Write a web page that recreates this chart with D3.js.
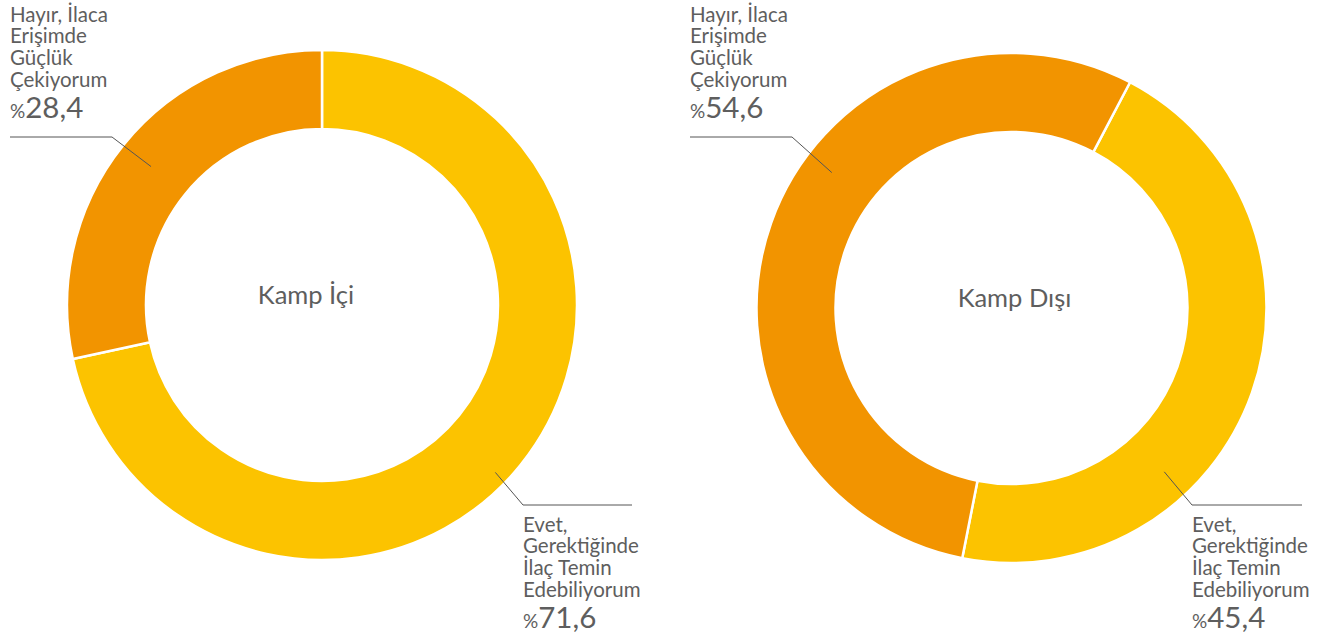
<!DOCTYPE html>
<html>
<head>
<meta charset="utf-8">
<script src="https://cdn.jsdelivr.net/npm/d3@7"></script>
<style>
  body { margin: 0; background: #fff; }
  text { font-family: Lato, "DejaVu Sans", sans-serif; font-weight: 400; fill: #5e5e5e; }
</style>
</head>
<body>
<script>
var width = 1331,
    height = 640;

// data
var groups = ["Kamp İçi", "Kamp Dışı"];
var categories = ["Evet", "Hayır"];
var evetValues = [71.6, 45.4];
var hayirValues = [28.4, 54.6];
var evetLines = ["Evet,", "Gerektiğinde", "İlaç Temin", "Edebiliyorum"];
var hayirLines = ["Hayır, İlaca", "Erişimde", "Güçlük", "Çekiyorum"];

var colors = d3.scaleOrdinal()
    .domain(categories)
    .range(["#fcc300", "#f29400"]);

// layout of each donut + its two callouts
var panels = [
    { cx: 322, cy: 305, start: 0, titleX: 306,
      top: { ang: 309, r: 220, bendX: 112, lineY: 137, x0: 10 },
      bot: { ang: 134, r: 241, bendX: 523, lineY: 505, x1: 632 } },
    { cx: 1011.5, cy: 308, start: 27.7, titleX: 1014.5,
      top: { ang: 307, r: 225, bendX: 792, lineY: 137, x0: 690 },
      bot: { ang: 137, r: 224, bendX: 1192, lineY: 505, x1: 1302 } }
];

var outerR = 255, innerR = 176;

var svg = d3.select("body").append("svg")
    .attr("width", width)
    .attr("height", height);

var arc = d3.arc().innerRadius(innerR).outerRadius(outerR);

var rad = function (deg) { return deg * Math.PI / 180; };

groups.forEach(function (name, i) {
    var p = panels[i];
    var values = [evetValues[i], hayirValues[i]];

    var pie = d3.pie()
        .sort(null)
        .startAngle(rad(p.start))
        .endAngle(rad(p.start + 360));

    var g = svg.append("g")
        .attr("transform", "translate(" + p.cx + "," + p.cy + ")");

    g.selectAll("path")
        .data(pie(values))
        .enter().append("path")
        .attr("d", arc)
        .attr("fill", function (d, j) { return colors(categories[j]); })
        .attr("stroke", "#fff")
        .attr("stroke-width", 2.5);

    svg.append("text")
        .attr("x", p.titleX)
        .attr("y", p.cy - 1)
        .attr("text-anchor", "middle")
        .style("font-size", "25.5px")
        .text(name);

    // top callout (Hayır)
    var s = d3.pointRadial(rad(p.top.ang), p.top.r);
    svg.append("path")
        .attr("d", "M" + (p.cx + s[0]) + "," + (p.cy + s[1]) +
            "L" + p.top.bendX + "," + p.top.lineY + "L" + p.top.x0 + "," + p.top.lineY)
        .attr("fill", "none")
        .attr("stroke", "#555")
        .attr("stroke-width", 1);

    drawLabel(p.top.x0, 21.7, hayirLines, hayirValues[i]);

    // bottom callout (Evet)
    var b = d3.pointRadial(rad(p.bot.ang), p.bot.r);
    svg.append("path")
        .attr("d", "M" + (p.cx + b[0]) + "," + (p.cy + b[1]) +
            "L" + p.bot.bendX + "," + p.bot.lineY + "L" + p.bot.x1 + "," + p.bot.lineY)
        .attr("fill", "none")
        .attr("stroke", "#555")
        .attr("stroke-width", 1);

    drawLabel(p.bot.bendX, 531.7, evetLines, evetValues[i]);
});

function drawLabel(x, y0, lines, value) {
    var t = svg.append("text")
        .style("font-size", "20.5px");
    lines.forEach(function (l, k) {
        t.append("tspan")
            .attr("x", x)
            .attr("y", y0 + k * 21.6)
            .text(l);
    });
    var v = svg.append("text")
        .attr("x", x)
        .attr("y", y0 + 3 * 21.6 + 31.4);
    v.append("tspan").style("font-size", "19px").text("%");
    v.append("tspan").style("font-size", "29.5px")
        .text(d3.format(".1f")(value).replace(".", ","));
}
</script>
</body>
</html>
